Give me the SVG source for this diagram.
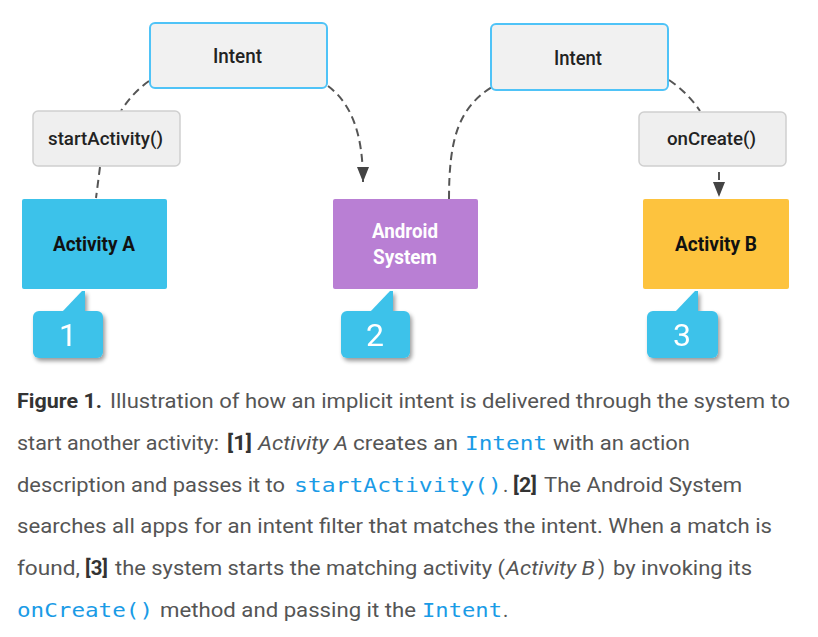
<svg xmlns="http://www.w3.org/2000/svg" width="818" height="637" viewBox="0 0 818 637">
<defs>
<filter id="sh" x="-20%" y="-20%" width="150%" height="150%">
<feGaussianBlur in="SourceAlpha" stdDeviation="2"/>
<feOffset dx="2" dy="3" result="b"/>
<feComponentTransfer><feFuncA type="linear" slope="0.4"/></feComponentTransfer>
<feMerge><feMergeNode/><feMergeNode in="SourceGraphic"/></feMerge>
</filter>
<marker id="ah" viewBox="0 0 15 12" refX="15" refY="6" markerWidth="15" markerHeight="12" markerUnits="userSpaceOnUse" orient="auto">
<path d="M0,0 L15,6 L0,12 Z" fill="#444"/>
</marker>
</defs>
<style>
.intent{fill:#f1f1f1;stroke:#4fc3f7;stroke-width:2}
.call{fill:#efefef;stroke:#cfcfcf;stroke-width:1.5}
.lbl{font-family:Roboto,"Liberation Sans",sans-serif;font-weight:500;fill:#222}
.act{font-family:Roboto,"Liberation Sans",sans-serif;font-weight:700;font-size:20px}
.num{font-family:Roboto,"Liberation Sans",sans-serif;font-size:32px;fill:#fff;text-anchor:middle}
.badge{fill:#3cc2ea}
.conn{fill:none;stroke:#555;stroke-width:2;stroke-dasharray:8 5}
.cap{font-family:Roboto,"Liberation Sans",sans-serif;font-size:20px;fill:#555}
.b{font-weight:700;fill:#333}
.i{font-style:italic}
.code{font-family:"DejaVu Sans Mono","Liberation Mono",monospace;font-size:19px;fill:#1a9be6}
</style>
<rect width="818" height="637" fill="#fff"/>

<g id="connectors">
<path class="conn" d="M149,81 Q132,93 121,111"/>
<path class="conn" d="M100,167 L96,198"/>
<path class="conn" d="M328,86 C352,104 363,135 363,182" marker-end="url(#ah)"/>
<path class="conn" d="M449,199 C449,140 458,108 492,87"/>
<path class="conn" d="M669,80 Q688,93 700,111"/>
<path class="conn" d="M719,172 L719,182"/>
<path d="M713,182 L725,182 L719,197 Z" fill="#444"/>
</g>

<g id="intent1">
<rect class="intent" x="150" y="23" width="177" height="65" rx="5"/>
<text class="lbl" x="213" y="63" font-size="21" textLength="49" lengthAdjust="spacingAndGlyphs">Intent</text>
</g>
<g id="intent2">
<rect class="intent" x="491" y="24" width="177" height="66" rx="5"/>
<text class="lbl" x="554" y="65" font-size="21" textLength="48" lengthAdjust="spacingAndGlyphs">Intent</text>
</g>
<g id="startActivity">
<rect class="call" x="33" y="111" width="147" height="55" rx="5"/>
<text class="lbl" x="48" y="145" font-size="19" textLength="115" lengthAdjust="spacingAndGlyphs">startActivity()</text>
</g>
<g id="onCreate">
<rect class="call" x="639" y="112" width="147" height="54" rx="5"/>
<text class="lbl" x="667" y="145" font-size="19" textLength="89" lengthAdjust="spacingAndGlyphs">onCreate()</text>
</g>
<g id="activityA">
<rect x="22" y="199" width="145" height="90" rx="2" fill="#3cc2ea"/>
<text class="act" x="53" y="251" fill="#111" textLength="82" lengthAdjust="spacingAndGlyphs">Activity A</text>
</g>
<g id="androidSystem">
<rect x="333" y="199" width="145" height="90" rx="2" fill="#b97fd4"/>
<text class="act" x="372" y="238" fill="#fff" textLength="66" lengthAdjust="spacingAndGlyphs">Android</text>
<text class="act" x="373" y="264" fill="#fff" textLength="64" lengthAdjust="spacingAndGlyphs">System</text>
</g>
<g id="activityB">
<rect x="643" y="199" width="146" height="90" rx="2" fill="#fdc33e"/>
<text class="act" x="675" y="251" fill="#111" textLength="82" lengthAdjust="spacingAndGlyphs">Activity B</text>
</g>

<g id="badge1" filter="url(#sh)">
<path class="badge" d="M62,312 L82,291 L85,291 L85,312 Z"/>
<rect class="badge" x="33" y="311" width="70" height="47" rx="6"/>
<text class="num" x="68" y="346">1</text>
</g>
<g id="badge2" filter="url(#sh)">
<path class="badge" d="M370,312 L390,291 L393,291 L393,312 Z"/>
<rect class="badge" x="341" y="311" width="69" height="47" rx="6"/>
<text class="num" x="375" y="346">2</text>
</g>
<g id="badge3" filter="url(#sh)">
<path class="badge" d="M675,312 L695,291 L698,291 L698,312 Z"/>
<rect class="badge" x="647" y="311" width="71" height="47" rx="6"/>
<text class="num" x="682" y="346">3</text>
</g>

<g id="caption">
<text class="cap b" x="17" y="408" textLength="85" lengthAdjust="spacingAndGlyphs">Figure 1.</text>
<text class="cap" x="110" y="408" textLength="680" lengthAdjust="spacingAndGlyphs">Illustration of how an implicit intent is delivered through the system to</text>

<text class="cap" x="17" y="450" textLength="202" lengthAdjust="spacingAndGlyphs">start another activity:</text>
<text class="cap b" x="227" y="450" textLength="25" lengthAdjust="spacingAndGlyphs">[1]</text>
<text class="cap i" x="258" y="450" textLength="90" lengthAdjust="spacingAndGlyphs">Activity A</text>
<text class="cap" x="353" y="450" textLength="105" lengthAdjust="spacingAndGlyphs">creates an</text>
<text class="code" x="465" y="450" textLength="82" lengthAdjust="spacingAndGlyphs">Intent</text>
<text class="cap" x="553" y="450" textLength="137" lengthAdjust="spacingAndGlyphs">with an action</text>

<text class="cap" x="17" y="492" textLength="268" lengthAdjust="spacingAndGlyphs">description and passes it to</text>
<text class="code" x="294" y="492" textLength="208" lengthAdjust="spacingAndGlyphs">startActivity()</text>
<text class="cap" x="503" y="492">.</text>
<text class="cap b" x="513" y="492" textLength="24" lengthAdjust="spacingAndGlyphs">[2]</text>
<text class="cap" x="544" y="492" textLength="198" lengthAdjust="spacingAndGlyphs">The Android System</text>

<text class="cap" x="17" y="533" textLength="755" lengthAdjust="spacingAndGlyphs">searches all apps for an intent filter that matches the intent. When a match is</text>

<text class="cap" x="17" y="575" textLength="63" lengthAdjust="spacingAndGlyphs">found,</text>
<text class="cap b" x="85" y="575" textLength="23" lengthAdjust="spacingAndGlyphs">[3]</text>
<text class="cap" x="115" y="575" textLength="390" lengthAdjust="spacingAndGlyphs">the system starts the matching activity (</text>
<text class="cap i" x="506" y="575" textLength="89" lengthAdjust="spacingAndGlyphs">Activity B</text>
<text class="cap" x="598" y="575">)</text>
<text class="cap" x="613" y="575" textLength="139" lengthAdjust="spacingAndGlyphs">by invoking its</text>

<text class="code" x="17" y="617" textLength="136" lengthAdjust="spacingAndGlyphs">onCreate()</text>
<text class="cap" x="160" y="617" textLength="256" lengthAdjust="spacingAndGlyphs">method and passing it the</text>
<text class="code" x="422" y="617" textLength="80" lengthAdjust="spacingAndGlyphs">Intent</text>
<text class="cap" x="503" y="617">.</text>
</g>
</svg>
